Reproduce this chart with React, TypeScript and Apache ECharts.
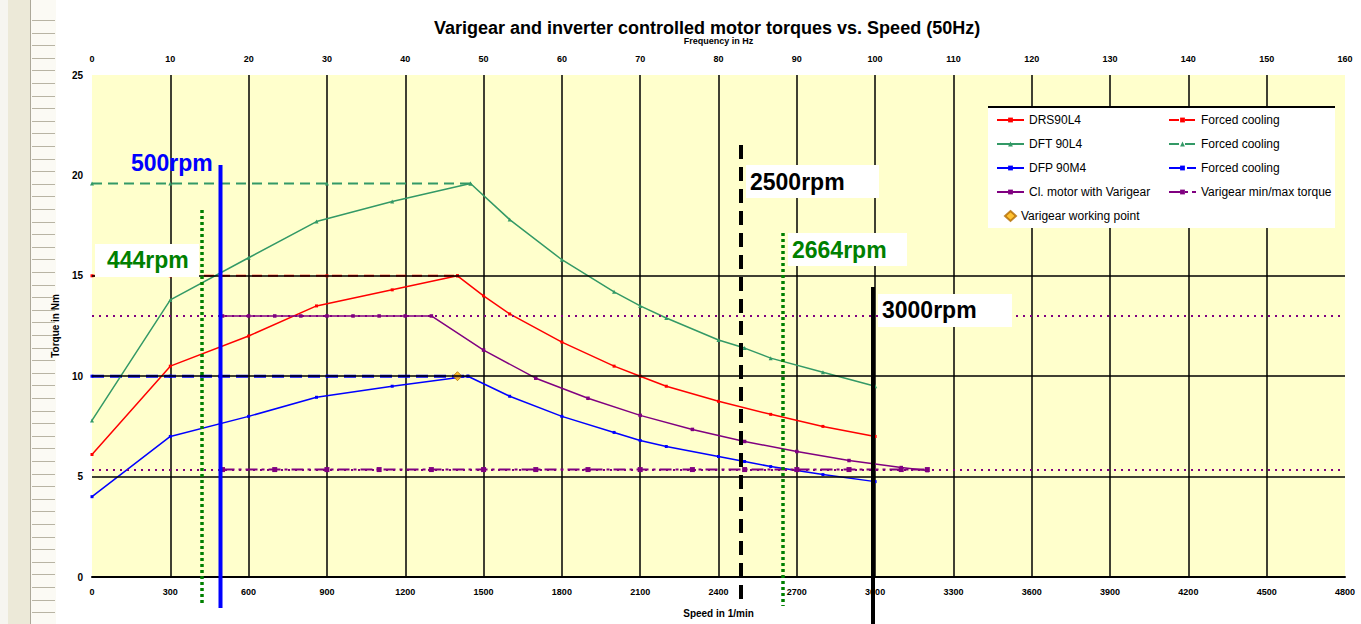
import React, { useEffect, useRef } from "react";
import * as echarts from "echarts";

// ---- data ----
const drsRpm = [0, 300, 600, 860, 1150, 1400, 1500, 1600, 1800, 2000, 2100, 2200, 2400, 2600, 2800, 3000];
const drsTorque = [6.1, 10.5, 12.0, 13.5, 14.3, 15.0, 14.0, 13.1, 11.7, 10.5, 10.0, 9.5, 8.75, 8.1, 7.5, 7.0];

const dftRpm = [0, 300, 600, 860, 1150, 1450, 1600, 1800, 2000, 2100, 2200, 2400, 2500, 2600, 2800, 3000];
const dftTorque = [7.8, 13.8, 15.9, 17.7, 18.7, 19.6, 17.8, 15.8, 14.2, 13.5, 12.9, 11.8, 11.4, 10.9, 10.2, 9.5];

const dfpRpm = [0, 300, 600, 860, 1150, 1440, 1600, 1800, 2000, 2100, 2200, 2400, 2500, 2600, 2800, 3000];
const dfpTorque = [4.0, 7.0, 8.0, 8.95, 9.5, 10.0, 9.0, 8.0, 7.2, 6.8, 6.5, 6.0, 5.75, 5.5, 5.1, 4.75];

const drsForcedRpm = [0, 300, 900, 1400];
const drsForcedTorque = [15.0, 15.0, 15.0, 15.0];
const dftForcedRpm = [0, 300, 900, 1450];
const dftForcedTorque = [19.6, 19.6, 19.6, 19.6];
const dfpForcedRpm = [0, 300, 900, 1440];
const dfpForcedTorque = [10.0, 10.0, 10.0, 10.0];

const varigearMotorRpm = [500, 600, 700, 800, 900, 1000, 1100, 1200, 1300, 1500, 1700, 1900, 2100, 2300, 2500, 2700, 2900, 3100, 3200];
const varigearMotorTorque = [13, 13, 13, 13, 13, 13, 13, 13, 13, 11.3, 9.9, 8.9, 8.05, 7.35, 6.75, 6.25, 5.8, 5.45, 5.3];

const varigearMinRpm = [500, 700, 900, 1100, 1300, 1500, 1700, 1900, 2100, 2300, 2500, 2700, 2900, 3100, 3200];
const varigearMinTorque = [5.35, 5.35, 5.35, 5.35, 5.35, 5.35, 5.35, 5.35, 5.35, 5.35, 5.35, 5.35, 5.35, 5.35, 5.35];

const varigearMaxLevel = 13;
const varigearMinLevel = 5.35;

const workingPoint = [1400, 10];

const gridLevels = [5, 10, 15];

const legendLeft = ["DRS90L4", "DFT 90L4", "DFP 90M4", "Cl. motor with Varigear"];
const legendPoint = ["Varigear working point"];
const legendRight = ["Forced cooling (DRS)", "Forced cooling (DFT)", "Forced cooling (DFP)", "Varigear min/max torque"];

const zip = (xs: number[], ys: number[]) => xs.map((x, i) => [x, ys[i]]);

const RED = "#ff0000";
const GREEN = "#339966";
const BLUE = "#0000ff";
const PURPLE = "#800080";

export default function App() {
  const ref = useRef<HTMLDivElement>(null);
  useEffect(() => {
    if (!ref.current) return;
    const chart = echarts.init(ref.current, null, { renderer: "svg" });
    const font = "Liberation Sans, Arial, sans-serif";

    // spreadsheet strip on the left
    const strip: any[] = [
      { type: "rect", shape: { x: 0, y: 0, width: 8, height: 624 }, style: { fill: "#f6f5f0" }, z: 0 },
      { type: "rect", shape: { x: 8, y: 0, width: 22, height: 624 }, style: { fill: "#ece9d8" }, z: 0 },
      { type: "line", shape: { x1: 30.5, y1: 0, x2: 30.5, y2: 624 }, style: { stroke: "#aca899", lineWidth: 1 }, z: 0 },
      { type: "rect", shape: { x: 31, y: 0, width: 25, height: 624 }, style: { fill: "#fbfaf4" }, z: 0 },
    ];
    for (let y = 20; y < 624; y += 12.6) {
      strip.push({ type: "line", shape: { x1: 32, y1: Math.round(y) + 0.5, x2: 55, y2: Math.round(y) + 0.5 }, style: { stroke: "#b8b4a4", lineWidth: 1 }, z: 0 });
    }

    const lbl = (text: string, x: number, y: number, color: string) => ({
      type: "text", x, y, z: 20,
      style: { text, fill: color, font: `bold 23px ${font}`, textVerticalAlign: "middle", textAlign: "left" },
    });
    const box = (x: number, y: number, w: number, h: number) => ({
      type: "rect", shape: { x, y, width: w, height: h }, style: { fill: "#ffffff" }, z: 19,
    });
    const vline = (x: number, y1: number, y2: number, color: string, w: number, dash?: number[]) => ({
      type: "line", z: 18, shape: { x1: x, y1, x2: x, y2 },
      style: { stroke: color, lineWidth: w, lineDash: dash || null },
    });

    const overlays: any[] = [
      // legend box
      { type: "rect", shape: { x: 988, y: 107, width: 347, height: 121 }, style: { fill: "#ffffff" }, z: 3 },
      { type: "line", shape: { x1: 988, y1: 107, x2: 1335, y2: 107 }, style: { stroke: "#000", lineWidth: 2 }, z: 3 },
      // 444 rpm
      vline(202, 210, 606, "#008000", 3.5, [3, 3]),
      box(95, 244, 104, 33),
      lbl("444rpm", 107, 260, "#008000"),
      // 500 rpm
      vline(220.5, 165, 608, "#0000ff", 4),
      lbl("500rpm", 131, 163, "#0000ff"),
      // 2500 rpm
      vline(741, 145, 600, "#000000", 4, [14, 8]),
      box(746, 165, 133, 33),
      lbl("2500rpm", 750, 182, "#000000"),
      // 2664 rpm
      vline(783, 233, 606, "#008000", 3.5, [3, 3]),
      box(788, 233, 119, 33),
      lbl("2664rpm", 792, 250, "#008000"),
      // 3000 rpm
      vline(873, 287, 624, "#000000", 4),
      box(878, 294, 134, 33),
      lbl("3000rpm", 882, 310, "#000000"),
    ];

    const lineSeries = (name: string, data: number[][], color: string, opts: any = {}) => ({
      type: "line",
      name,
      data,
      xAxisIndex: 0,
      yAxisIndex: 0,
      symbol: opts.symbol || "rect",
      symbolSize: opts.symbolSize || 3,
      z: 3,
      itemStyle: { color },
      lineStyle: { color, width: opts.width || 1.5, type: opts.dash || "solid" },
      ...opts.extra,
    });

    const legendBase = {
      orient: "vertical",
      top: 109,
      itemGap: 12,
      itemWidth: 27,
      itemHeight: 6,
      z: 6,
      formatter: (n: string) => (n.startsWith("Forced cooling") ? "Forced cooling" : n),
      textStyle: { fontSize: 12, color: "#000", fontFamily: font },
    };

    chart.setOption({
      animation: false,
      backgroundColor: "#ffffff",
      textStyle: { fontFamily: font },
      title: {
        text: "Varigear and inverter controlled motor torques vs. Speed (50Hz)",
        left: 429,
        top: 14,
        textStyle: { fontSize: 18, fontWeight: "bold", color: "#000", fontFamily: font },
      },
      grid: {
        left: 92, right: 16, top: 75, bottom: 47,
        show: true, backgroundColor: "#ffffcc", borderWidth: 0,
      },
      legend: [
        { ...legendBase, left: 991, data: legendLeft },
        { ...legendBase, left: 1163, data: legendRight },
        { ...legendBase, left: 999, top: 205, itemWidth: 11, itemHeight: 10, data: legendPoint },
      ],
      xAxis: [
        {
          type: "value", position: "bottom", min: 0, max: 4800, interval: 300,
          name: "Speed in 1/min", nameLocation: "middle", nameGap: 31,
          nameTextStyle: { fontSize: 10, fontWeight: "bold", color: "#000" },
          axisLine: { show: true, lineStyle: { color: "#000", width: 2 } },
          axisTick: { show: false },
          axisLabel: { fontSize: 9, fontWeight: "bold", color: "#000", margin: 10, formatter: (v: number) => String(v) },
          splitLine: { show: true, showMinLine: false, showMaxLine: false, lineStyle: { color: "#000", width: 1.5 } },
        },
        {
          type: "value", position: "top", min: 0, max: 160, interval: 10,
          name: "Frequency in Hz", nameLocation: "middle", nameGap: 30,
          nameTextStyle: { fontSize: 9, fontWeight: "bold", color: "#000" },
          axisLine: { show: false },
          axisTick: { show: false },
          axisLabel: { fontSize: 9, fontWeight: "bold", color: "#000", margin: 12, formatter: (v: number) => String(v) },
          splitLine: { show: false },
        },
      ],
      yAxis: {
        type: "value", min: 0, max: 25, interval: 5,
        name: "Torque in Nm", nameLocation: "middle", nameGap: 25, nameRotate: 90,
        nameTextStyle: { fontSize: 10, fontWeight: "bold", color: "#000" },
        axisLine: { show: false },
        axisTick: { show: false },
        axisLabel: { fontSize: 10, fontWeight: "bold", color: "#000", margin: 9 },
        splitLine: { show: false },
      },
      series: [
        {
          type: "line", name: "_grid", data: [[0, 0]], symbol: "none", silent: true, z: 1,
          lineStyle: { opacity: 0 },
          markLine: {
            silent: true, symbol: "none", label: { show: false },
            lineStyle: { color: "#000", width: 1.5, type: "solid" },
            data: gridLevels.map((v) => ({ yAxis: v })),
          },
        },
        lineSeries("Forced cooling (DRS)", zip(drsForcedRpm, drsForcedTorque), RED, { width: 2, dash: [10, 6] }),
        lineSeries("Forced cooling (DFT)", zip(dftForcedRpm, dftForcedTorque), GREEN, { width: 2, dash: [10, 6], symbol: "triangle", symbolSize: 4 }),
        lineSeries("Forced cooling (DFP)", zip(dfpForcedRpm, dfpForcedTorque), BLUE, { width: 3, dash: [12, 6] }),
        lineSeries("DRS90L4", zip(drsRpm, drsTorque), RED),
        lineSeries("DFT 90L4", zip(dftRpm, dftTorque), GREEN, { symbol: "triangle", symbolSize: 4 }),
        lineSeries("DFP 90M4", zip(dfpRpm, dfpTorque), BLUE),
        lineSeries("Cl. motor with Varigear", zip(varigearMotorRpm, varigearMotorTorque), PURPLE, { symbolSize: 3.5 }),
        lineSeries("Varigear min/max torque", zip(varigearMinRpm, varigearMinTorque), PURPLE, {
          width: 2, dash: [12, 4, 3, 4], symbolSize: 5,
          extra: {
            markLine: {
              silent: true, symbol: "none", label: { show: false },
              lineStyle: { color: PURPLE, width: 2, type: [2, 5] },
              data: [{ yAxis: varigearMaxLevel }, { yAxis: varigearMinLevel }],
            },
          },
        }),
        {
          type: "scatter", name: "Varigear working point", data: [workingPoint],
          symbol: "diamond", symbolSize: 9, z: 4,
          itemStyle: { color: "#ffb300", borderColor: "#b36b00", borderWidth: 1 },
        },
      ],
      graphic: [...strip, ...overlays],
    });
    return () => chart.dispose();
  }, []);
  return <div ref={ref} style={{ position: "absolute", left: 0, top: 0, width: 1361, height: 624 }} />;
}
